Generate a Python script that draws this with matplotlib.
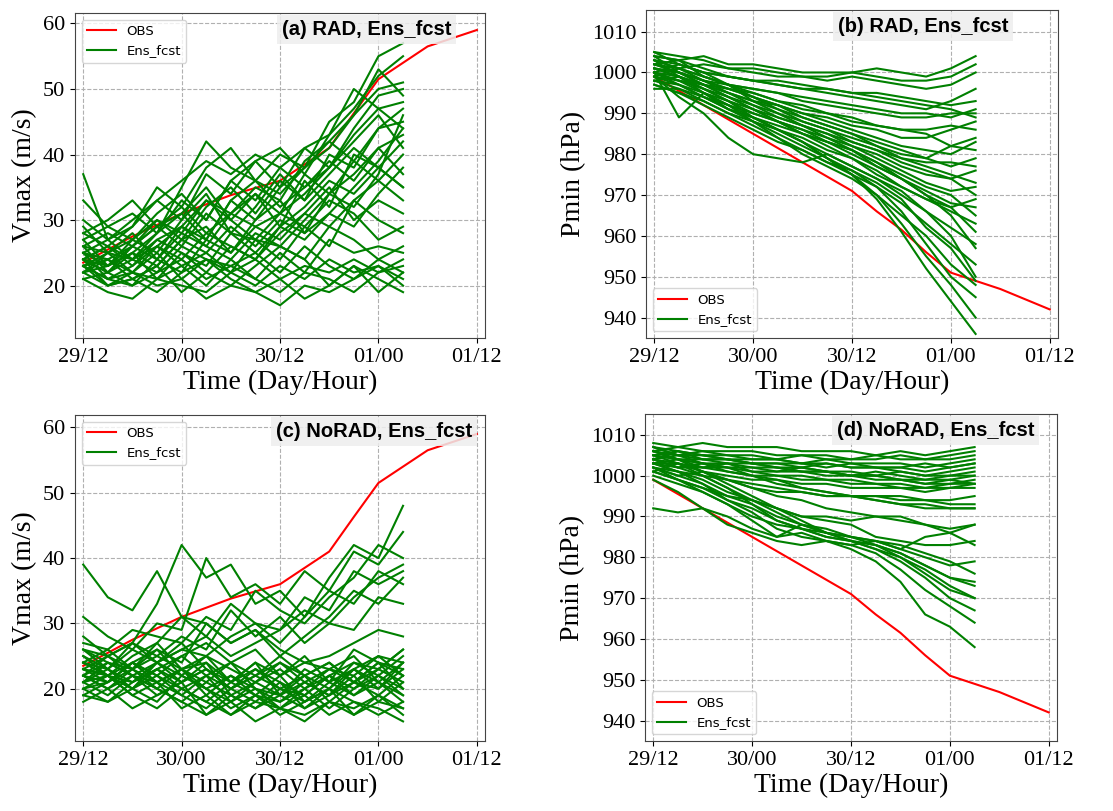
import matplotlib
matplotlib.use("Agg")
import matplotlib.pyplot as plt

# forecast hours since 29/12 (3-hourly members) and observation hours
ens_hours = [0, 3, 6, 9, 12, 15, 18, 21, 24, 27, 30, 33, 36, 39]
obs_hours = [0, 6, 12, 18, 24, 27, 30, 33, 36, 42, 48]
obs_vmax = [23.5, 27.5, 31.0, 33.8, 36.0, 38.5, 41.0, 46.3, 51.5, 56.5, 59.0]
obs_pmin = [999, 992, 985, 978, 971, 966, 961.5, 956, 951, 947, 942]

tick_hours = [0, 12, 24, 36, 48]
tick_labels = ["29/12", "30/00", "30/12", "01/00", "01/12"]

# (a) RAD, Vmax
rad_vmax = [
    [37, 27, 30, 33, 36, 39, 37, 40, 38, 41, 43, 47, 52, 55],
    [24, 22, 25, 28, 35, 42, 38, 36, 40, 38, 45, 48, 55, 57],
    [25, 23, 26, 24, 29, 27, 33, 30, 35, 38, 41, 46, 50, 51],
    [23, 21, 20, 24, 22, 27, 25, 29, 31, 34, 38, 43, 47, 48],
    [22, 24, 26, 30, 27, 32, 35, 31, 36, 33, 40, 38, 44, 45],
    [26, 25, 22, 21, 25, 23, 28, 27, 26, 30, 34, 37, 41, 43],
    [28, 30, 33, 29, 31, 35, 30, 34, 29, 36, 32, 40, 38, 42],
    [24, 20, 22, 25, 21, 24, 22, 27, 24, 29, 26, 33, 36, 40],
    [21, 19, 18, 21, 20, 19, 22, 20, 23, 21, 24, 22, 23, 21],
    [23, 21, 22, 20, 21, 18, 20, 19, 17, 20, 19, 21, 23, 20],
    [25, 27, 24, 26, 23, 25, 22, 24, 21, 23, 22, 24, 22, 23],
    [27, 29, 31, 28, 33, 30, 36, 33, 38, 35, 39, 36, 41, 37],
    [22, 23, 27, 25, 30, 34, 28, 32, 37, 33, 37, 41, 38, 35],
    [24, 26, 23, 27, 25, 22, 26, 24, 28, 31, 29, 33, 30, 28],
    [23, 25, 28, 24, 28, 26, 31, 29, 27, 31, 35, 30, 33, 31],
    [26, 22, 24, 22, 26, 24, 23, 21, 25, 22, 27, 25, 26, 25],
    [30, 27, 29, 33, 30, 37, 34, 39, 35, 41, 38, 44, 49, 50],
    [24, 26, 29, 35, 32, 38, 41, 36, 32, 35, 38, 42, 46, 41],
    [22, 20, 21, 23, 19, 22, 20, 23, 26, 24, 20, 23, 19, 22],
    [25, 24, 21, 23, 27, 29, 25, 30, 33, 28, 31, 35, 39, 44],
    [33, 29, 27, 31, 34, 30, 36, 39, 41, 37, 43, 50, 47, 44],
    [29, 25, 27, 30, 28, 33, 31, 35, 33, 39, 42, 46, 53, 49],
    [23, 24, 22, 26, 24, 28, 26, 24, 29, 27, 31, 29, 34, 38],
    [27, 23, 25, 23, 27, 25, 29, 26, 30, 28, 34, 32, 37, 46],
    [21, 22, 20, 22, 24, 21, 23, 25, 22, 26, 23, 21, 24, 22],
    [24, 23, 25, 21, 23, 20, 24, 21, 19, 22, 21, 19, 22, 24],
    [26, 28, 26, 29, 32, 28, 31, 34, 31, 37, 34, 39, 36, 33],
    [25, 21, 23, 26, 29, 33, 30, 27, 31, 29, 33, 31, 27, 29],
    [22, 25, 24, 28, 31, 27, 33, 36, 34, 38, 42, 39, 44, 47],
    [28, 26, 24, 27, 29, 26, 24, 28, 26, 24, 29, 27, 24, 26],
    [24, 22, 26, 29, 26, 31, 28, 25, 29, 32, 36, 34, 38, 35],
    [23, 20, 21, 19, 22, 24, 21, 19, 21, 18, 20, 23, 21, 19],
]

# (b) RAD, Pmin
rad_pmin = [
    [1004, 1003, 1004, 1002, 1002, 1001, 1000, 1000, 1000, 1001, 1000, 999, 1001, 1004],
    [1002, 1001, 1002, 1001, 1000, 999, 999, 998, 999, 998, 997, 996, 997, 1000],
    [1000, 1002, 1000, 999, 998, 997, 996, 996, 995, 995, 994, 993, 992, 993],
    [1003, 1001, 999, 997, 996, 995, 993, 992, 991, 990, 989, 989, 990, 990],
    [999, 998, 997, 995, 993, 992, 990, 989, 987, 986, 984, 984, 986, 988],
    [1001, 1000, 998, 996, 994, 992, 990, 988, 986, 984, 982, 981, 980, 983],
    [1005, 1002, 1000, 997, 994, 992, 989, 987, 985, 983, 981, 979, 977, 979],
    [998, 999, 996, 994, 991, 989, 987, 985, 982, 980, 977, 975, 974, 976],
    [1002, 1000, 997, 994, 992, 989, 987, 984, 982, 979, 976, 973, 971, 972],
    [1000, 998, 996, 993, 990, 988, 985, 983, 980, 977, 974, 971, 968, 967],
    [997, 995, 993, 990, 988, 986, 984, 981, 979, 976, 972, 969, 966, 963],
    [1001, 999, 995, 992, 989, 986, 983, 980, 977, 974, 970, 966, 962, 958],
    [999, 997, 994, 991, 988, 984, 981, 978, 975, 972, 968, 963, 958, 953],
    [996, 996, 993, 990, 987, 984, 980, 977, 974, 970, 965, 960, 953, 948],
    [1000, 998, 995, 992, 988, 985, 982, 979, 976, 972, 966, 958, 950, 945],
    [1003, 999, 996, 993, 989, 986, 983, 979, 975, 970, 963, 955, 948, 940],
    [998, 997, 994, 991, 989, 986, 983, 979, 975, 969, 961, 952, 944, 936],
    [999, 994, 990, 984, 980, 979, 978, 980, 977, 974, 971, 966, 960, 950],
    [1000, 989, 995, 991, 989, 987, 985, 983, 981, 978, 974, 970, 965, 957],
    [1004, 1003, 1001, 999, 998, 997, 996, 995, 994, 993, 992, 991, 993, 996],
    [1002, 1000, 998, 997, 995, 993, 992, 990, 989, 987, 986, 985, 982, 981],
    [1005, 1004, 1003, 1001, 1001, 1000, 999, 999, 1000, 999, 998, 998, 999, 1002],
    [1003, 1002, 1000, 999, 998, 998, 997, 996, 995, 994, 993, 992, 991, 989],
    [1001, 999, 997, 996, 995, 993, 991, 990, 988, 987, 986, 986, 987, 986],
    [999, 1001, 998, 996, 994, 991, 989, 987, 985, 982, 979, 977, 975, 973],
    [1002, 1003, 999, 997, 993, 991, 988, 986, 983, 981, 978, 976, 974, 970],
    [1000, 997, 995, 993, 991, 988, 986, 984, 981, 978, 975, 972, 970, 965],
    [1004, 1000, 998, 995, 993, 990, 987, 985, 983, 981, 979, 978, 978, 977],
    [998, 996, 994, 992, 990, 988, 986, 983, 981, 977, 974, 970, 967, 961],
    [1001, 1000, 997, 995, 992, 990, 988, 986, 984, 982, 980, 979, 982, 984],
    [997, 995, 992, 989, 986, 983, 981, 978, 976, 973, 969, 962, 957, 949],
    [1003, 1001, 999, 997, 996, 995, 994, 993, 992, 991, 990, 990, 989, 991],
    [1000, 999, 997, 994, 991, 988, 985, 982, 979, 975, 972, 969, 967, 969],
]

# (c) NoRAD, Vmax
norad_vmax = [
    [39, 34, 32, 38, 31, 30, 27, 29, 26, 24, 25, 27, 29, 28],
    [28, 25, 27, 33, 42, 37, 39, 33, 35, 31, 37, 42, 40, 48],
    [31, 28, 26, 30, 29, 40, 34, 36, 33, 38, 35, 41, 39, 44],
    [27, 26, 29, 28, 27, 31, 29, 35, 32, 30, 34, 37, 42, 40],
    [24, 22, 25, 27, 31, 28, 33, 30, 29, 34, 32, 38, 36, 38],
    [22, 24, 23, 26, 24, 30, 27, 29, 25, 28, 31, 35, 33, 37],
    [26, 23, 27, 25, 28, 26, 32, 28, 31, 27, 30, 29, 34, 33],
    [23, 25, 22, 24, 21, 23, 20, 22, 24, 21, 23, 22, 25, 24],
    [21, 19, 22, 20, 18, 21, 19, 17, 20, 18, 21, 19, 22, 20],
    [20, 22, 19, 21, 17, 19, 16, 18, 17, 19, 16, 18, 17, 15],
    [25, 23, 26, 24, 22, 25, 23, 21, 24, 22, 20, 23, 25, 22],
    [18, 20, 17, 19, 21, 16, 18, 15, 17, 16, 18, 17, 19, 16],
    [22, 21, 24, 22, 20, 22, 18, 20, 19, 21, 19, 21, 20, 23],
    [24, 26, 23, 25, 23, 21, 24, 22, 20, 19, 22, 24, 23, 26],
    [19, 18, 20, 18, 22, 20, 17, 19, 16, 18, 20, 16, 18, 17],
    [23, 22, 21, 23, 25, 27, 24, 26, 22, 24, 23, 25, 21, 24],
    [21, 23, 20, 22, 19, 17, 20, 18, 21, 17, 19, 22, 18, 21],
    [26, 24, 22, 21, 23, 20, 22, 19, 18, 20, 17, 20, 22, 19],
    [20, 21, 24, 21, 23, 24, 21, 23, 20, 22, 24, 21, 24, 22],
    [22, 20, 23, 27, 23, 25, 21, 24, 19, 23, 21, 26, 24, 23],
    [23, 21, 24, 22, 25, 22, 20, 23, 21, 19, 22, 20, 23, 21],
    [21, 24, 22, 20, 23, 19, 22, 20, 18, 21, 19, 23, 21, 19],
    [24, 22, 20, 23, 21, 24, 19, 21, 23, 20, 22, 19, 21, 18],
    [20, 18, 21, 23, 20, 18, 21, 19, 22, 18, 20, 24, 22, 25],
    [22, 25, 23, 21, 19, 22, 24, 20, 17, 20, 23, 21, 19, 22],
    [25, 22, 24, 26, 22, 20, 18, 21, 19, 22, 18, 21, 24, 20],
    [19, 21, 23, 20, 18, 16, 19, 17, 19, 17, 20, 18, 16, 18],
    [24, 23, 21, 24, 27, 23, 21, 24, 22, 25, 21, 23, 20, 24],
    [22, 20, 22, 19, 21, 23, 20, 22, 25, 22, 24, 21, 23, 26],
    [26, 25, 27, 24, 26, 28, 25, 27, 29, 32, 30, 34, 37, 39],
    [23, 22, 20, 24, 26, 25, 28, 30, 27, 31, 35, 33, 38, 36],
    [21, 22, 19, 17, 20, 18, 16, 19, 17, 15, 18, 16, 19, 17],
]

# (d) NoRAD, Pmin
norad_pmin = [
    [1008, 1007, 1008, 1007, 1007, 1007, 1006, 1006, 1006, 1005, 1006, 1005, 1006, 1007],
    [1006, 1005, 1006, 1005, 1005, 1004, 1005, 1004, 1004, 1004, 1005, 1004, 1004, 1005],
    [1004, 1006, 1004, 1004, 1003, 1003, 1003, 1002, 1003, 1002, 1002, 1003, 1002, 1003],
    [1003, 1002, 1003, 1002, 1002, 1001, 1002, 1001, 1000, 1001, 1000, 999, 1000, 1001],
    [1005, 1004, 1002, 1003, 1001, 1000, 1000, 999, 999, 998, 998, 997, 998, 999],
    [1001, 1003, 1001, 1000, 999, 999, 998, 998, 997, 997, 997, 996, 997, 998],
    [1002, 1000, 1001, 999, 998, 997, 996, 995, 995, 994, 993, 993, 992, 992],
    [1007, 1005, 1003, 1002, 1000, 998, 997, 996, 995, 995, 994, 994, 994, 995],
    [1004, 1003, 1001, 999, 997, 995, 994, 992, 991, 990, 990, 988, 987, 988],
    [1003, 1001, 999, 996, 994, 992, 990, 989, 988, 985, 984, 983, 983, 984],
    [1002, 1000, 998, 995, 993, 990, 988, 987, 985, 984, 982, 980, 978, 979],
    [1005, 1003, 1000, 997, 994, 991, 988, 986, 984, 983, 981, 978, 975, 974],
    [1006, 1004, 1001, 998, 995, 992, 989, 986, 984, 982, 980, 977, 973, 970],
    [1001, 999, 997, 994, 992, 989, 987, 985, 984, 982, 979, 975, 970, 967],
    [1003, 1001, 998, 994, 991, 987, 985, 984, 983, 981, 977, 972, 968, 964],
    [999, 996, 992, 988, 986, 984, 983, 984, 982, 979, 974, 966, 963, 958],
    [992, 991, 992, 990, 987, 985, 988, 986, 985, 983, 980, 976, 972, 970],
    [1000, 998, 996, 993, 989, 985, 986, 984, 983, 984, 982, 985, 986, 988],
    [1007, 1006, 1005, 1005, 1004, 1004, 1003, 1003, 1002, 1002, 1001, 1000, 1000, 1000],
    [1004, 1005, 1004, 1004, 1003, 1003, 1002, 1001, 1001, 1000, 999, 998, 999, 998],
    [1006, 1007, 1006, 1006, 1006, 1005, 1005, 1005, 1004, 1005, 1004, 1004, 1005, 1006],
    [1005, 1006, 1005, 1004, 1004, 1004, 1003, 1004, 1003, 1003, 1003, 1002, 1003, 1004],
    [1003, 1004, 1003, 1003, 1002, 1002, 1001, 1001, 1000, 1000, 999, 999, 999, 1000],
    [1004, 1002, 1002, 1001, 1000, 1000, 999, 999, 998, 998, 997, 997, 997, 997],
    [1007, 1005, 1005, 1004, 1003, 1002, 1001, 1001, 1000, 999, 999, 998, 998, 998],
    [1002, 1001, 1000, 999, 997, 996, 996, 995, 995, 995, 995, 994, 993, 993],
    [1006, 1004, 1003, 1001, 1000, 999, 997, 996, 995, 994, 993, 992, 992, 992],
    [1003, 1003, 1002, 1002, 1001, 1001, 1001, 1000, 1000, 1000, 1001, 1000, 1001, 1002],
    [1001, 999, 996, 993, 990, 988, 987, 986, 985, 984, 983, 981, 979, 976],
    [1004, 1002, 1000, 997, 993, 989, 987, 985, 984, 983, 981, 978, 975, 973],
    [1005, 1004, 1004, 1003, 1003, 1002, 1002, 1003, 1002, 1002, 1002, 1001, 1002, 1003],
    [1002, 999, 997, 995, 994, 992, 990, 990, 989, 990, 989, 988, 986, 983],
]

serif = "Liberation Serif"

fig = plt.figure(figsize=(11.13, 8.11), dpi=100)

panels = [
    # rect, members, obs, title, title x, ylabel, ylim, yticks, legend loc
    ([0.0674, 0.5832, 0.3684, 0.4008], rad_vmax, obs_vmax, "(a) RAD, Ens_fcst", 0.505,
     "Vmax (m/s)", (12, 61.6), [20, 30, 40, 50, 60], "upper left"),
    ([0.5804, 0.5832, 0.3702, 0.4045], rad_pmin, obs_pmin, "(b) RAD, Ens_fcst", 0.466,
     "Pmin (hPa)", (935, 1015.3), list(range(940, 1011, 10)), "lower left"),
    ([0.0674, 0.0863, 0.3684, 0.4020], norad_vmax, obs_vmax, "(c) NoRAD, Ens_fcst", 0.49,
     "Vmax (m/s)", (12, 61.9), [20, 30, 40, 50, 60], "upper left"),
    ([0.5795, 0.0863, 0.3702, 0.4032], norad_pmin, obs_pmin, "(d) NoRAD, Ens_fcst", 0.466,
     "Pmin (hPa)", (935, 1015.1), list(range(940, 1011, 10)), "lower left"),
]

for rect, members, obs, title, tx, ylabel, ylim, yticks, loc in panels:
    ax = fig.add_axes(rect)
    ax.plot(obs_hours, obs, color="red", lw=1.5, label="OBS", zorder=2)
    for i, m in enumerate(members):
        ax.plot(ens_hours, m, color="green", lw=1.5,
                label="Ens_fcst" if i == 0 else None, zorder=3)
    ax.set_xlim(-1, 49)
    ax.set_ylim(*ylim)
    ax.set_xticks(tick_hours)
    ax.set_xticklabels(tick_labels, fontfamily=serif, fontsize=16)
    ax.set_yticks(yticks)
    ax.set_yticklabels([str(v) for v in yticks], fontfamily=serif, fontsize=16)
    ax.grid(True, linestyle="--", color="#b0b0b0", linewidth=0.8)
    ax.set_axisbelow(True)
    ax.set_xlabel("Time (Day/Hour)", fontfamily=serif, fontsize=20, labelpad=2)
    ax.set_ylabel(ylabel, fontfamily=serif, fontsize=20, labelpad=4)
    for s in ax.spines.values():
        s.set_color("#444444")
    ax.legend(loc=loc, fontsize=9.5, handlelength=2.2)
    ax.text(tx, 0.95, title, transform=ax.transAxes, ha="left", va="center",
            fontfamily="Liberation Sans", fontweight="bold", fontsize=14.5, zorder=5,
            bbox=dict(boxstyle="square,pad=0.25", facecolor="#eeeeee",
                      edgecolor="none", alpha=0.85))

fig.savefig("out.png", dpi=100)
